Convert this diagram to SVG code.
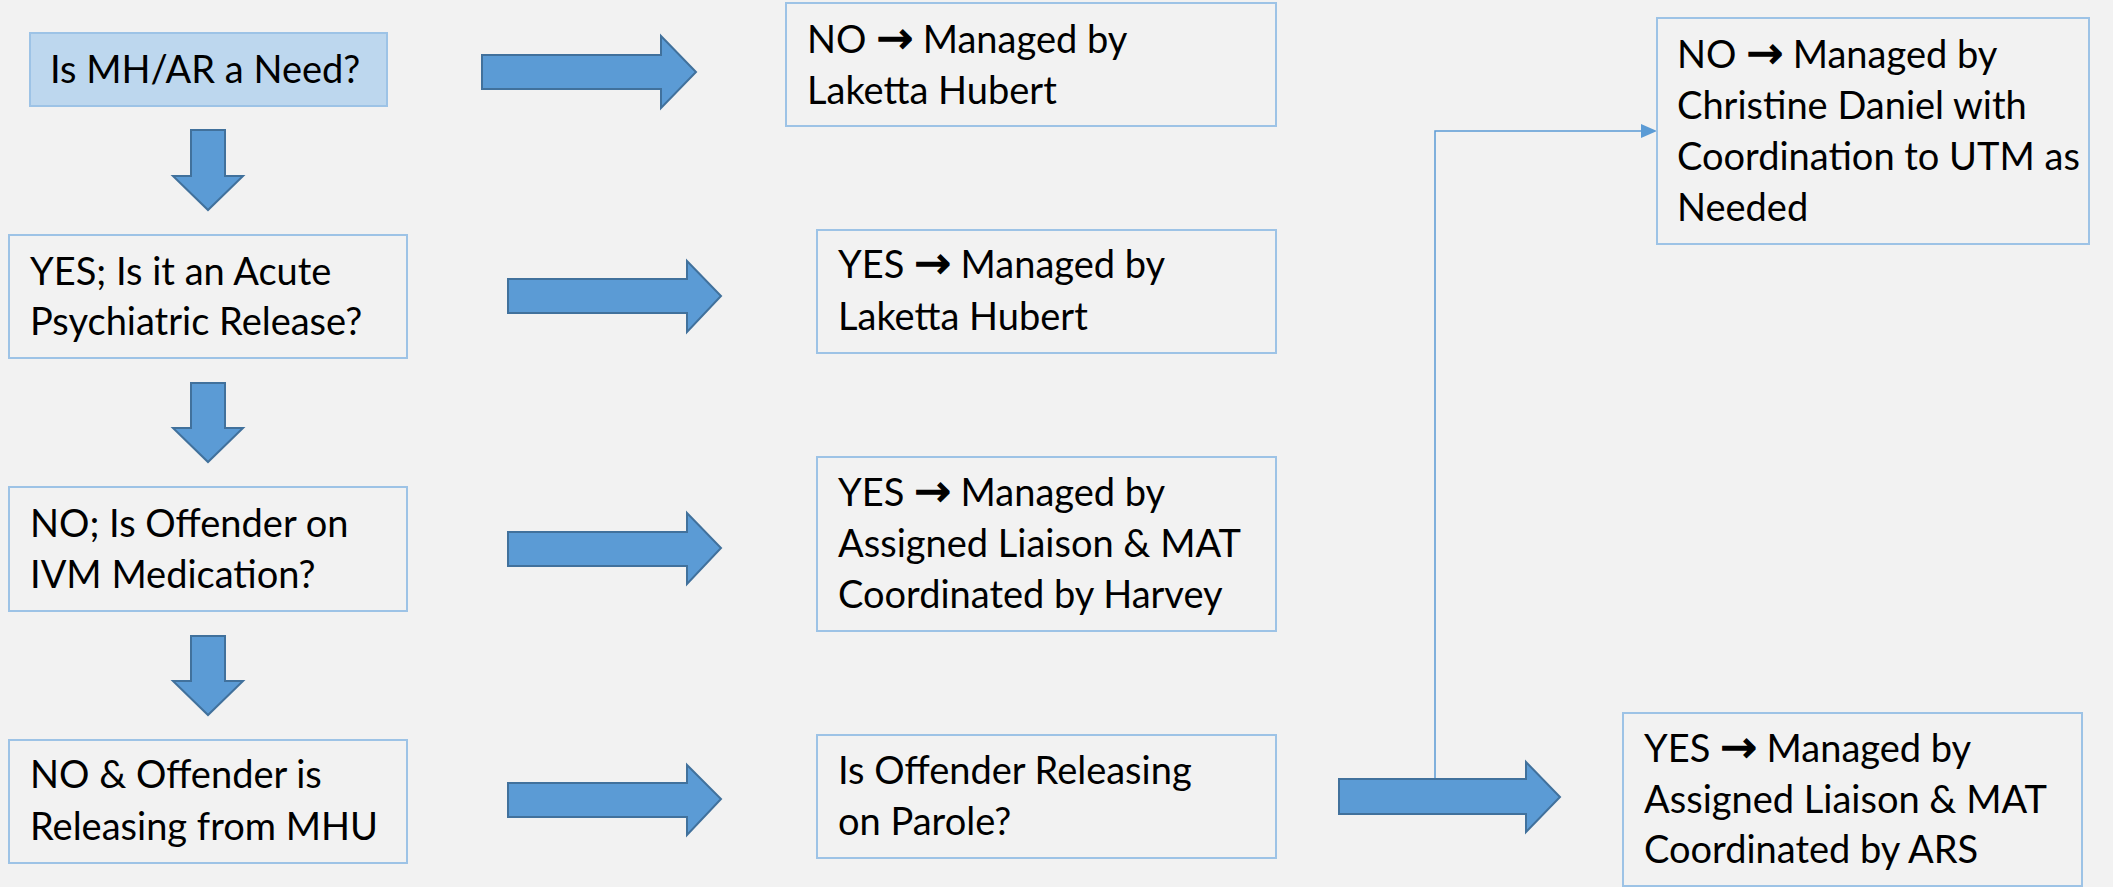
<svg xmlns="http://www.w3.org/2000/svg" width="2113" height="887" viewBox="0 0 2113 887">
<style>
.box{fill:#F2F2F2;stroke:#9DC3E6;stroke-width:2}
.hl{fill:#BDD7EE}
.blk{fill:#5B9BD5;stroke:#41719C;stroke-width:2;stroke-linejoin:miter}
.t{font-family:Lato,"Open Sans","Liberation Sans",sans-serif;font-size:38px;fill:#000}
.ar{font-family:"DejaVu Sans",sans-serif;font-size:44px;stroke:#000;stroke-width:1.2}
.conn{fill:none;stroke:#5B9BD5;stroke-width:1.5}
</style>
<rect x="0" y="0" width="2113" height="887" fill="#F2F2F2"/>

<g id="connectors">
<path d="M1435,779 V131 H1641" class="conn"/>
<path d="M1641,124 L1657,131 L1641,138 Z" fill="#5B9BD5"/>
<path class="blk" d="M191,130 H225 V176 H243 L208,210 L173,176 H191 Z"/>
<path class="blk" d="M191,383 H225 V428 H243 L208,462 L173,428 H191 Z"/>
<path class="blk" d="M191,636 H225 V681 H243 L208,715 L173,681 H191 Z"/>
<path class="blk" d="M482,55 H661 V36 L696,72 L661,108 V89 H482 Z"/>
<path class="blk" d="M508,279 H687 V261 L721,296 L687,332 V313 H508 Z"/>
<path class="blk" d="M508,532 H687 V513 L721,548 L687,584 V566 H508 Z"/>
<path class="blk" d="M508,783 H687 V765 L721,799 L687,835 V817 H508 Z"/>
<path class="blk" d="M1339,779 H1526 V762 L1560,797 L1526,832 V814 H1339 Z"/>
</g>

<g id="n1"><rect class="box hl" x="30" y="33" width="357" height="73"/>
<text class="t" x="50" y="83">Is MH/AR a Need?</text></g>

<g id="n2"><rect class="box" x="9" y="235" width="398" height="123"/>
<text class="t" x="30" y="285">YES; Is it an Acute</text>
<text class="t" x="30" y="335">Psychiatric Release?</text></g>

<g id="n3"><rect class="box" x="9" y="487" width="398" height="124"/>
<text class="t" x="30" y="537">NO; Is Offender on</text>
<text class="t" x="30" y="588">IVM Medication?</text></g>

<g id="n4"><rect class="box" x="9" y="740" width="398" height="123"/>
<text class="t" x="30" y="788">NO &amp; Offender is</text>
<text class="t" x="30" y="840">Releasing from MHU</text></g>

<g id="nA"><rect class="box" x="786" y="3" width="490" height="123"/>
<text class="t" x="807" y="53">NO <tspan class="ar">→</tspan> Managed by</text>
<text class="t" x="807" y="104">Laketta Hubert</text></g>

<g id="nB"><rect class="box" x="817" y="230" width="459" height="123"/>
<text class="t" x="838" y="278">YES <tspan class="ar">→</tspan> Managed by</text>
<text class="t" x="838" y="330">Laketta Hubert</text></g>

<g id="nC"><rect class="box" x="817" y="457" width="459" height="174"/>
<text class="t" x="838" y="506">YES <tspan class="ar">→</tspan> Managed by</text>
<text class="t" x="838" y="557">Assigned Liaison &amp; MAT</text>
<text class="t" x="838" y="608">Coordinated by Harvey</text></g>

<g id="nD"><rect class="box" x="817" y="735" width="459" height="123"/>
<text class="t" x="838" y="784">Is Offender Releasing</text>
<text class="t" x="838" y="835">on Parole?</text></g>

<g id="nF"><rect class="box" x="1657" y="18" width="432" height="226"/>
<text class="t" x="1677" y="68">NO <tspan class="ar">→</tspan> Managed by</text>
<text class="t" x="1677" y="119">Christine Daniel with</text>
<text class="t" x="1677" y="170">Coordination to UTM as</text>
<text class="t" x="1677" y="221">Needed</text></g>

<g id="nE"><rect class="box" x="1623" y="713" width="459" height="173"/>
<text class="t" x="1644" y="762">YES <tspan class="ar">→</tspan> Managed by</text>
<text class="t" x="1644" y="813">Assigned Liaison &amp; MAT</text>
<text class="t" x="1644" y="863">Coordinated by ARS</text></g>
</svg>
